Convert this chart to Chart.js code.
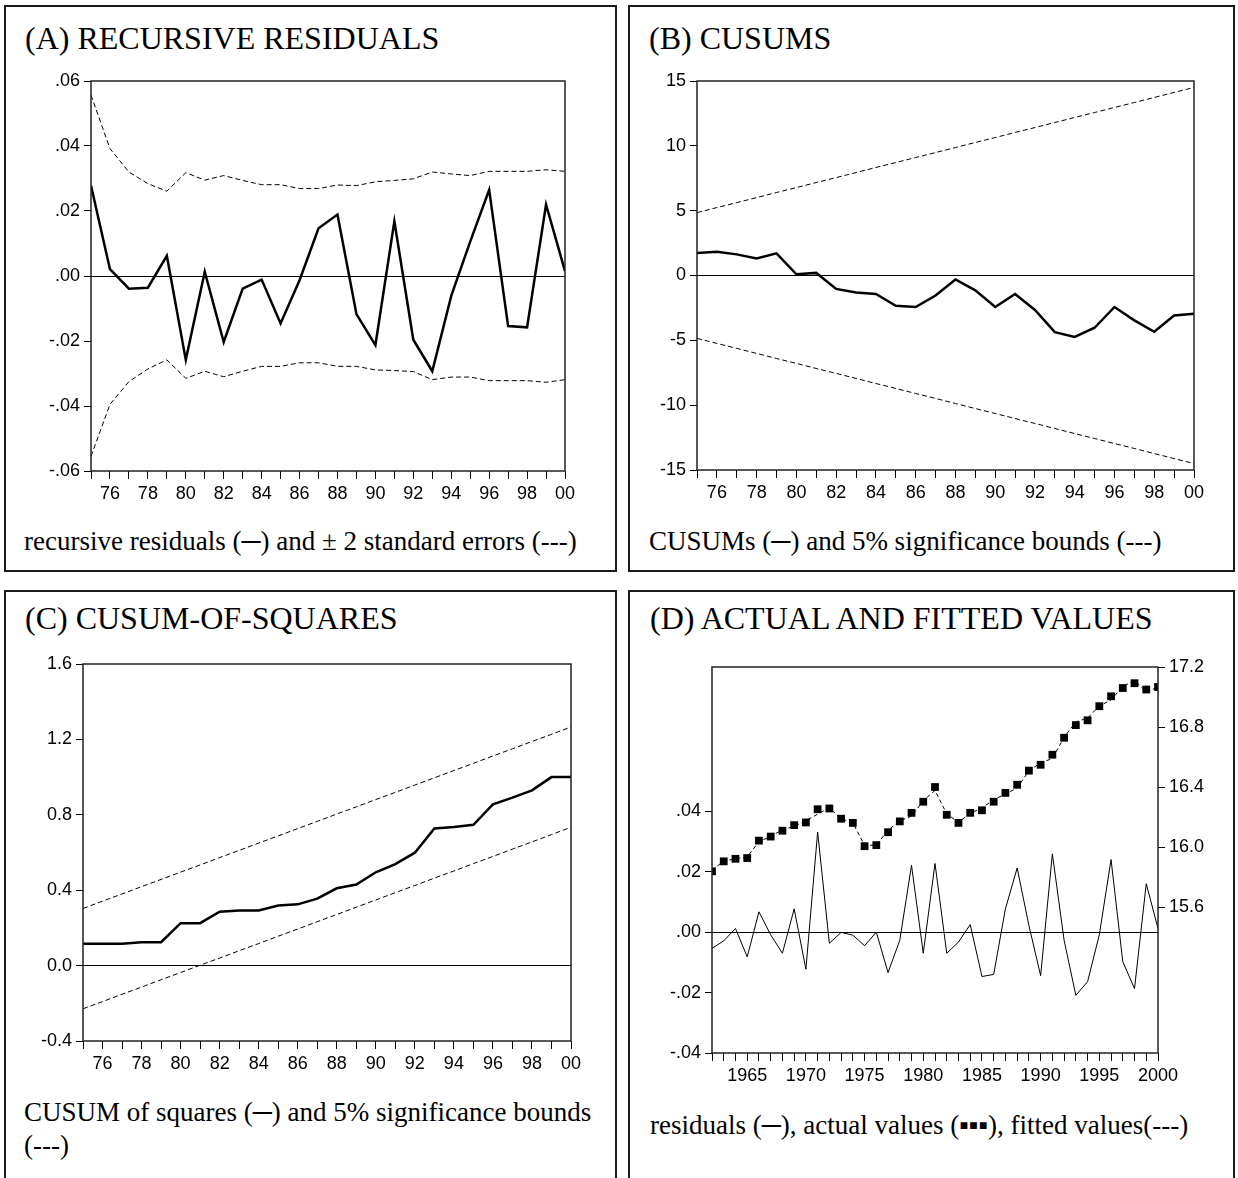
<!DOCTYPE html>
<html>
<head>
<meta charset="utf-8">
<script src="https://cdn.jsdelivr.net/npm/chart.js@4.4.1/dist/chart.umd.min.js"></script>
<style>
  html, body { margin: 0; padding: 0; background: #fff; }
  body { position: relative; width: 1238px; height: 1178px; overflow: hidden; }
  .panel { position: absolute; box-sizing: border-box; border: 2px solid #1a1a1a; }
  .title, .caption {
    position: absolute; white-space: nowrap; color: #000; line-height: 1;
    font-family: 'Liberation Serif', 'Times New Roman', serif;
  }
  .title { font-size: 32px; }
  .caption { font-size: 27px; }
  .plot { position: absolute; }
</style>
</head>
<body>
<div class="panel" style="left:4px;top:5px;width:613px;height:567px"></div>
<div class="panel" style="left:628px;top:5px;width:607px;height:567px"></div>
<div class="panel" style="left:4px;top:590px;width:613px;height:620px"></div>
<div class="panel" style="left:628px;top:590px;width:607px;height:620px"></div>

<div class="title" style="left:25px;top:22px">(A) RECURSIVE RESIDUALS</div>
<div class="title" style="left:649px;top:22px">(B) CUSUMS</div>
<div class="title" style="left:25px;top:602px">(C) CUSUM-OF-SQUARES</div>
<div class="title" style="left:650px;top:602px">(D) ACTUAL AND FITTED VALUES</div>

<div class="caption" style="left:24px;top:528px">recursive residuals (─) and ± 2 standard errors (---)</div>
<div class="caption" style="left:649px;top:528px">CUSUMs (─) and 5% significance bounds (---)</div>
<div class="caption" style="left:24px;top:1096px;line-height:33px">CUSUM of squares (─) and 5% significance bounds<br>(---)</div>
<div class="caption" style="left:650px;top:1112px">residuals (─), actual values (▪▪▪), fitted values(---)</div>

<script>
// sample years
const yearsRecursive = [1975, 1976, 1977, 1978, 1979, 1980, 1981, 1982, 1983, 1984, 1985, 1986, 1987,
  1988, 1989, 1990, 1991, 1992, 1993, 1994, 1995, 1996, 1997, 1998, 1999, 2000];
const yearsFull = [1962, 1963, 1964, 1965, 1966, 1967, 1968, 1969, 1970, 1971, 1972, 1973, 1974,
  1975, 1976, 1977, 1978, 1979, 1980, 1981, 1982, 1983, 1984, 1985, 1986, 1987, 1988, 1989, 1990,
  1991, 1992, 1993, 1994, 1995, 1996, 1997, 1998, 1999, 2000];

// (A) recursive residuals and +/- 2 s.e.
const recursiveResiduals = [0.0278, 0.0021, -0.0039, -0.0036, 0.0062, -0.0258, 0.0013, -0.0203, -0.0039,
  -0.0011, -0.0146, -0.0013, 0.0147, 0.0189, -0.0117, -0.0213, 0.0168, -0.0196, -0.0293, -0.0061,
  0.0106, 0.0265, -0.0154, -0.0158, 0.0220, 0.0015];
const residualUpper = [0.0557, 0.0392, 0.0320, 0.0284, 0.0261, 0.0318, 0.0295, 0.0309, 0.0294, 0.0281,
  0.0281, 0.0269, 0.0269, 0.0280, 0.0278, 0.0290, 0.0294, 0.0299, 0.0320, 0.0314, 0.0309, 0.0322,
  0.0322, 0.0322, 0.0327, 0.0322];
const residualLower = [-0.0555, -0.0395, -0.0325, -0.0286, -0.0258, -0.0315, -0.0293, -0.0310, -0.0293,
  -0.0278, -0.0278, -0.0267, -0.0267, -0.0278, -0.0278, -0.0289, -0.0291, -0.0294, -0.0319, -0.0311,
  -0.0311, -0.0322, -0.0322, -0.0322, -0.0327, -0.0319];

// (B) CUSUM and 5% bounds
const cusum = [1.74, 1.83, 1.63, 1.31, 1.71, 0.09, 0.20, -1.03, -1.31, -1.43, -2.34, -2.43, -1.54,
  -0.31, -1.14, -2.43, -1.43, -2.66, -4.37, -4.74, -4.03, -2.43, -3.46, -4.34, -3.09, -2.94];
const cusumUpper = [4.85, 5.24, 5.62, 6.01, 6.40, 6.78, 7.17, 7.55, 7.94, 8.33, 8.71, 9.10, 9.48,
  9.87, 10.26, 10.64, 11.03, 11.41, 11.80, 12.19, 12.57, 12.96, 13.34, 13.73, 14.12, 14.50];
const cusumLower = [-4.85, -5.24, -5.62, -6.01, -6.40, -6.78, -7.17, -7.55, -7.94, -8.33, -8.71, -9.10,
  -9.48, -9.87, -10.26, -10.64, -11.03, -11.41, -11.80, -12.19, -12.57, -12.96, -13.34, -13.73,
  -14.12, -14.50];

// (C) CUSUM of squares and 5% bounds
const cusumSq = [0.116, 0.116, 0.116, 0.124, 0.124, 0.225, 0.225, 0.286, 0.292, 0.292, 0.319, 0.325,
  0.355, 0.410, 0.430, 0.495, 0.538, 0.599, 0.727, 0.735, 0.747, 0.855, 0.891, 0.930, 1.0, 1.0];
const cusumSqUpper = [0.303, 0.342, 0.380, 0.419, 0.457, 0.496, 0.534, 0.573, 0.611, 0.650, 0.688,
  0.727, 0.765, 0.804, 0.842, 0.881, 0.919, 0.958, 0.996, 1.035, 1.073, 1.112, 1.150, 1.189, 1.227, 1.266];
const cusumSqLower = [-0.229, -0.191, -0.152, -0.114, -0.075, -0.037, 0.002, 0.040, 0.079, 0.117, 0.156,
  0.194, 0.233, 0.271, 0.310, 0.348, 0.387, 0.425, 0.464, 0.502, 0.541, 0.579, 0.618, 0.656, 0.695, 0.734];

// (D) residuals (left axis), actual and fitted values (right axis)
const residuals = [-0.0054, -0.0029, 0.0012, -0.0082, 0.0067, -0.0009, -0.0070, 0.0077, -0.0123, 0.0331,
  -0.0037, -0.0001, -0.0010, -0.0045, 0.0000, -0.0134, -0.0027, 0.0221, -0.0070, 0.0227, -0.0070,
  -0.0033, 0.0025, -0.0147, -0.0140, 0.0077, 0.0212, 0.0022, -0.0144, 0.0259, -0.0027, -0.0209,
  -0.0164, -0.0009, 0.0240, -0.0098, -0.0187, 0.0160, 0.0012];
const actualValues = [15.840, 15.906, 15.923, 15.928, 16.044, 16.071, 16.110, 16.147, 16.165, 16.253,
  16.258, 16.190, 16.162, 16.007, 16.014, 16.100, 16.172, 16.229, 16.303, 16.401, 16.216, 16.162,
  16.229, 16.246, 16.303, 16.362, 16.416, 16.510, 16.549, 16.616, 16.729, 16.813, 16.845, 16.939,
  17.005, 17.060, 17.092, 17.050, 17.067];
const fittedValues = [15.845, 15.909, 15.922, 15.936, 16.037, 16.072, 16.117, 16.139, 16.177, 16.220,
  16.262, 16.190, 16.163, 16.012, 16.014, 16.113, 16.175, 16.207, 16.310, 16.378, 16.223, 16.165,
  16.227, 16.261, 16.317, 16.354, 16.395, 16.508, 16.563, 16.590, 16.732, 16.834, 16.861, 16.940,
  16.981, 17.070, 17.111, 17.034, 17.066];

// plot rectangles (page pixels) and room left around them for axes
const PAD = { left: 80, top: 20, right: 80, bottom: 50 };
const rectA = { left: 91, top: 81, right: 565, bottom: 471 };
const rectB = { left: 697, top: 81, right: 1194, bottom: 470 };
const rectC = { left: 83, top: 664, right: 571, bottom: 1041 };
const rectD = { left: 712, top: 667, right: 1158, bottom: 1053 };

Chart.defaults.font.family = "'Liberation Sans', Arial, sans-serif";
Chart.defaults.font.size = 18;
Chart.defaults.color = '#000';

const frame = {
  id: 'frame',
  afterDatasetsDraw(chart) {
    const { ctx, chartArea: a } = chart;
    ctx.save();
    ctx.strokeStyle = '#222';
    ctx.lineWidth = 1.5;
    ctx.strokeRect(a.left, a.top, a.right - a.left, a.bottom - a.top);
    ctx.restore();
  },
};

const toPoints = (xs, ys) => xs.map((x, i) => ({ x, y: ys[i] }));
const isZero = (v) => Math.abs(v) < 1e-9;
const fmtDot = (v) => v.toFixed(2).replace('0.', '.');
const fmtOne = (v) => v.toFixed(1);
const fmtInt = (v) => String(Math.round(v));

function solid(data, width) {
  return { data, borderColor: '#000', borderWidth: width, pointRadius: 0, tension: 0, fill: false };
}

function dashed(data) {
  return { data, borderColor: '#000', borderWidth: 1, borderDash: [5, 3], pointRadius: 0, tension: 0, fill: false };
}

function yearAxis(min, max, labelEvery, fmt) {
  return {
    type: 'linear',
    min,
    max,
    afterFit: (s) => { s.height = PAD.bottom; },
    border: { display: false },
    grid: { drawOnChartArea: false, tickLength: 8, tickColor: '#000', lineWidth: 1 },
    ticks: {
      stepSize: 1,
      autoSkip: false,
      maxRotation: 0,
      padding: 4,
      callback: (v) => (Math.round(v) % labelEvery === 0 ? fmt(Math.round(v)) : ''),
    },
  };
}

function valueAxis(min, max, step, fmt, extra = {}) {
  return {
    type: 'linear',
    min,
    max,
    afterFit: (s) => { s.width = extra.position === 'right' ? PAD.right : PAD.left; },
    border: { display: false },
    grid: {
      drawOnChartArea: extra.zeroLine !== false,
      color: (ctx) => (ctx.tick && isZero(ctx.tick.value) ? '#000' : 'rgba(0,0,0,0)'),
      tickColor: '#000',
      tickLength: 7,
      lineWidth: 1,
    },
    ticks: { stepSize: step, padding: 4, callback: fmt },
    ...extra,
  };
}

function mountChart(rect, datasets, scales, rightAxis) {
  const wrap = document.createElement('div');
  wrap.className = 'plot';
  wrap.style.left = (rect.left - PAD.left) + 'px';
  wrap.style.top = (rect.top - PAD.top) + 'px';
  wrap.style.width = (rect.right - rect.left + PAD.left + PAD.right) + 'px';
  wrap.style.height = (rect.bottom - rect.top + PAD.top + PAD.bottom) + 'px';
  const canvas = document.createElement('canvas');
  wrap.appendChild(canvas);
  document.body.appendChild(wrap);

  return new Chart(canvas, {
    type: 'line',
    data: { datasets },
    options: {
      responsive: true,
      maintainAspectRatio: false,
      animation: false,
      layout: { padding: { left: 0, top: PAD.top, right: rightAxis ? 0 : PAD.right, bottom: 0 } },
      plugins: { legend: { display: false }, tooltip: { enabled: false } },
      scales,
    },
    plugins: [frame],
  });
}

const shortYear = (y) => String(y).slice(2);

mountChart(rectA, [
  dashed(toPoints(yearsRecursive, residualUpper)),
  dashed(toPoints(yearsRecursive, residualLower)),
  solid(toPoints(yearsRecursive, recursiveResiduals), 2.5),
], {
  x: yearAxis(1975, 2000, 2, shortYear),
  y: valueAxis(-0.06, 0.06, 0.02, fmtDot),
});

mountChart(rectB, [
  dashed(toPoints(yearsRecursive, cusumUpper)),
  dashed(toPoints(yearsRecursive, cusumLower)),
  solid(toPoints(yearsRecursive, cusum), 2.5),
], {
  x: yearAxis(1975, 2000, 2, shortYear),
  y: valueAxis(-15, 15, 5, fmtInt),
});

mountChart(rectC, [
  dashed(toPoints(yearsRecursive, cusumSqUpper)),
  dashed(toPoints(yearsRecursive, cusumSqLower)),
  solid(toPoints(yearsRecursive, cusumSq), 2.5),
], {
  x: yearAxis(1975, 2000, 2, shortYear),
  y: valueAxis(-0.4, 1.6, 0.4, fmtOne),
});

mountChart(rectD, [
  solid(toPoints(yearsFull, residuals), 1),
  { ...dashed(toPoints(yearsFull, fittedValues)), borderDash: [4, 3], yAxisID: 'y1' },
  {
    data: toPoints(yearsFull, actualValues),
    yAxisID: 'y1',
    showLine: false,
    pointStyle: 'rect',
    pointRadius: 5.5,
    pointBorderWidth: 0,
    pointBackgroundColor: '#000',
    borderColor: '#000',
  },
], {
  x: yearAxis(1962, 2000, 5, String),
  y: valueAxis(-0.04, 0.0877, 0.02, fmtDot, {
    afterBuildTicks: (s) => { s.ticks = s.ticks.filter((t) => t.value <= 0.0401); },
  }),
  y1: valueAxis(14.63, 17.2, 0.4, fmtOne, {
    position: 'right',
    zeroLine: false,
    afterBuildTicks: (s) => { s.ticks = s.ticks.filter((t) => t.value >= 15.59); },
  }),
}, true);
</script>
</body>
</html>
